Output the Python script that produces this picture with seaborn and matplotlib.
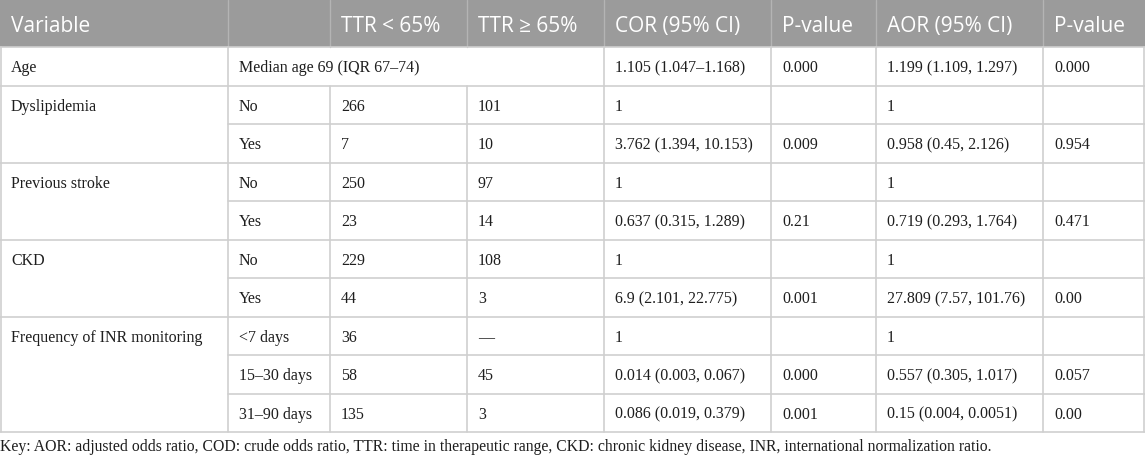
import matplotlib
matplotlib.use("Agg")
import matplotlib.pyplot as plt
import seaborn as sns

sns.set_theme(style="white")

# ---- data ----
headers = ["Variable", "", "TTR < 65%", "TTR \u2265 65%", "COR (95% CI)", "P-value", "AOR (95% CI)", "P-value"]
group_names = ["Age", "Dyslipidemia", "Previous stroke", "CKD", "Frequency of INR monitoring"]
group_spans = [1, 2, 2, 2, 3]
age_note = "Median age 69 (IQR 67\u201374)"
levels = ["", "No", "Yes", "No", "Yes", "No", "Yes", "<7 days", "15\u201330 days", "31\u201390 days"]
ttr_low = ["", "266", "7", "250", "23", "229", "44", "36", "58", "135"]
ttr_high = ["", "101", "10", "97", "14", "108", "3", "\u2014", "45", "3"]
cor = ["1.105 (1.047\u20131.168)", "1", "3.762 (1.394, 10.153)", "1", "0.637 (0.315, 1.289)",
       "1", "6.9 (2.101, 22.775)", "1", "0.014 (0.003, 0.067)", "0.086 (0.019, 0.379)"]
p_cor = ["0.000", "", "0.009", "", "0.21", "", "0.001", "", "0.000", "0.001"]
aor = ["1.199 (1.109, 1.297)", "1", "0.958 (0.45, 2.126)", "1", "0.719 (0.293, 1.764)",
       "1", "27.809 (7.57, 101.76)", "1", "0.557 (0.305, 1.017)", "0.15 (0.004, 0.0051)"]
p_aor = ["0.000", "", "0.954", "", "0.471", "", "0.00", "", "0.057", "0.00"]
footnote = ("Key: AOR: adjusted odds ratio, COD: crude odds ratio, TTR: time in therapeutic range, "
            "CKD: chronic kidney disease, INR, international normalization ratio.")

# ---- layout ----
W, H = 1145, 457
col_x = [0, 228, 330, 467, 604, 771, 876, 1043, 1145]
head_h = 47
row_h = 38.5
pad = 11
grid_c = "#CFCFCF"
head_bg = "#9B9B9B"
head_line = "#B4B4B4"
txt_c = "#1E1E1E"
serif = ["Liberation Serif", "DejaVu Serif"]
sans = ["Open Sans", "DejaVu Sans"]
body_fs = 11.5
head_fs = 15.0
foot_fs = 11.3

fig = plt.figure(figsize=(W / 100, H / 100), dpi=100)
ax = fig.add_axes([0, 0, 1, 1])
ax.set_xlim(0, W)
ax.set_ylim(H, 0)
ax.axis("off")

# header
ax.add_patch(plt.Rectangle((0, 0), W, head_h, color=head_bg, lw=0))
for x in col_x[1:-1]:
    ax.plot([x, x], [0, head_h], color=head_line, lw=1.0)
for i, h in enumerate(headers):
    if h:
        ax.text(col_x[i] + pad, head_h / 2 + 8.5, h, color="white", fontsize=head_fs,
                family=sans, va="baseline", ha="left")

n_rows = len(levels)
row_top = [head_h + r * row_h for r in range(n_rows)]
bottom = head_h + n_rows * row_h

# group boundaries
group_start = []
s = 0
for sp in group_spans:
    group_start.append(s)
    s += sp

# horizontal lines
ax.plot([0, W], [head_h, head_h], color=grid_c, lw=1.2)
for r in range(1, n_rows):
    y = row_top[r]
    x0 = 0 if r in group_start else col_x[1]
    ax.plot([x0, W], [y, y], color=grid_c, lw=1.2)
ax.plot([0, W], [bottom, bottom], color=grid_c, lw=1.2)

# vertical lines
for ci, x in enumerate(col_x):
    xx = min(max(x, 0.6), W - 1.5)
    if ci in (2, 3):
        ax.plot([xx, xx], [row_top[1], bottom], color=grid_c, lw=1.2)
    else:
        ax.plot([xx, xx], [head_h, bottom], color=grid_c, lw=1.2)

# body text
def cell(ci, r, s):
    if s:
        ax.text(col_x[ci] + pad, row_top[r] + row_h / 2 + 6, s, color=txt_c, fontsize=body_fs,
                family=serif, va="baseline", ha="left")

for name, st in zip(group_names, group_start):
    cell(0, st, name)
cell(1, 0, age_note)
cols = [levels, ttr_low, ttr_high, cor, p_cor, aor, p_aor]
for r in range(n_rows):
    for k, col in enumerate(cols):
        cell(k + 1, r, col[r])

ax.text(0, 451, footnote, color=txt_c, fontsize=foot_fs, family=serif, va="baseline", ha="left")

fig.savefig("out.png", dpi=100)
